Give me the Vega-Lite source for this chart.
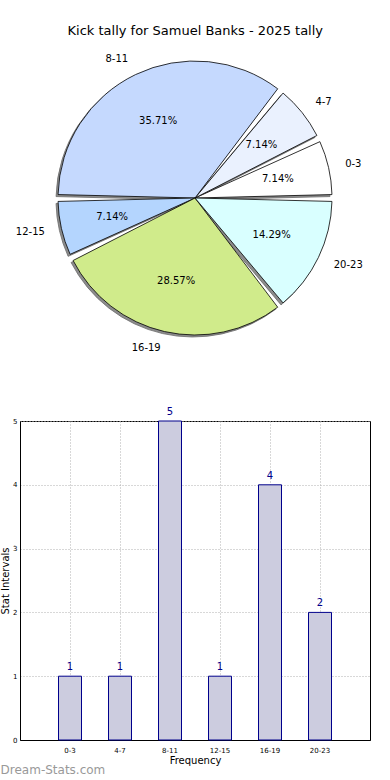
{
  "$schema": "https://vega.github.io/schema/vega-lite/v6.json",
  "padding": {"top": 25, "left": 0, "right": 0, "bottom": 0},
  "background": "white",
  "config": {"font": "DejaVu Sans", "view": {"stroke": null}, "concat": {"spacing": 52}},
  "title": {"text": "Kick tally for Samuel Banks - 2025 tally", "fontSize": 13, "fontWeight": "normal", "color": "black", "anchor": "middle", "offset": 10, "dx": 10},
  "datasets": {
    "tally": [
      {"cat": "0-3", "idx": 0, "count": 1, "pct": "7.14%"},
      {"cat": "4-7", "idx": 1, "count": 1, "pct": "7.14%"},
      {"cat": "8-11", "idx": 2, "count": 5, "pct": "35.71%"},
      {"cat": "12-15", "idx": 3, "count": 1, "pct": "7.14%"},
      {"cat": "16-19", "idx": 4, "count": 4, "pct": "28.57%"},
      {"cat": "20-23", "idx": 5, "count": 2, "pct": "14.29%"}
    ]
  },
  "vconcat": [
    {
      "width": 350,
      "height": 300,
      "data": {"name": "tally"},
      "encoding": {
        "theta": {"field": "count", "type": "quantitative", "stack": true, "scale": {"range": [1.5708, 7.854]}},
        "order": {"field": "idx", "type": "quantitative", "sort": "descending"}
      },
      "layer": [
        {
          "mark": {"type": "arc", "outerRadius": 137, "padAngle": 0.05, "fill": "#8c8c8c", "stroke": "#6a6a6a", "strokeWidth": 0.8, "xOffset": -2, "yOffset": 2},
          "encoding": {"detail": {"field": "cat"}}
        },
        {
          "mark": {"type": "arc", "outerRadius": 137, "padAngle": 0.05, "stroke": "black", "strokeWidth": 0.8},
          "encoding": {
            "color": {"field": "cat", "type": "nominal",
              "scale": {"domain": ["0-3", "4-7", "8-11", "12-15", "16-19", "20-23"],
                        "range": ["#ffffff", "#eaf1fe", "#c5d9fe", "#b4d5fe", "#d0eb8b", "#d9ffff"]},
              "legend": null}
          }
        },
        {
          "mark": {"type": "text", "radius": 85, "fontSize": 10, "color": "black"},
          "encoding": {"detail": {"field": "cat"}, "text": {"field": "pct"}}
        },
        {
          "mark": {"type": "text", "radius": 154, "fontSize": 10, "align": "left", "baseline": "middle", "color": "black"},
          "encoding": {
            "detail": {"field": "cat"},
            "text": {"field": "cat"},
            "opacity": {"condition": {"test": "datum.idx <= 1 || datum.idx == 5", "value": 1}, "value": 0}
          }
        },
        {
          "mark": {"type": "text", "radius": 154, "fontSize": 10, "align": "right", "baseline": "middle", "color": "black"},
          "encoding": {
            "detail": {"field": "cat"},
            "text": {"field": "cat"},
            "opacity": {"condition": {"test": "datum.idx <= 1 || datum.idx == 5", "value": 0}, "value": 1}
          }
        }
      ]
    },
    {
      "width": 350,
      "height": 319,
      "view": {"stroke": "black"},
      "data": {"name": "tally"},
      "title": {"text": "Dream-Stats.com", "orient": "bottom", "anchor": "start", "frame": "bounds", "fontSize": 12, "fontWeight": "normal", "color": "#999999", "offset": 0},
      "encoding": {
        "x": {"field": "cat", "type": "nominal", "sort": ["0-3", "4-7", "8-11", "12-15", "16-19", "20-23"],
          "scale": {"paddingInner": 0.54, "paddingOuter": 0.77},
          "axis": {"title": "Frequency", "titleFontSize": 10, "titleFontWeight": "normal", "titleColor": "black", "labelFontSize": 7, "labelColor": "black", "labelAngle": 0, "labelPadding": 6, "ticks": false, "grid": true, "gridColor": "#b0b0b0", "gridDash": [1, 2], "domainColor": "black", "titlePadding": 2, "bandPosition": 0.5}},
        "y": {"field": "count", "type": "quantitative", "scale": {"domain": [0, 5], "nice": false},
          "axis": {"title": "Stat Intervals", "titleFontSize": 10, "titleFontWeight": "normal", "titleColor": "black", "values": [0, 1, 2, 3, 4, 5], "labelFontSize": 7, "labelColor": "black", "labelPadding": 3, "ticks": false, "grid": true, "gridColor": "#b0b0b0", "gridDash": [1, 2], "domainColor": "black", "titlePadding": 2}}
      },
      "layer": [
        {"mark": {"type": "bar", "fill": "#ccccdf", "stroke": "#00008b", "strokeWidth": 1}},
        {"mark": {"type": "text", "dy": -9, "fontSize": 10, "color": "#00008b"}, "encoding": {"text": {"field": "count"}}}
      ]
    }
  ]
}
